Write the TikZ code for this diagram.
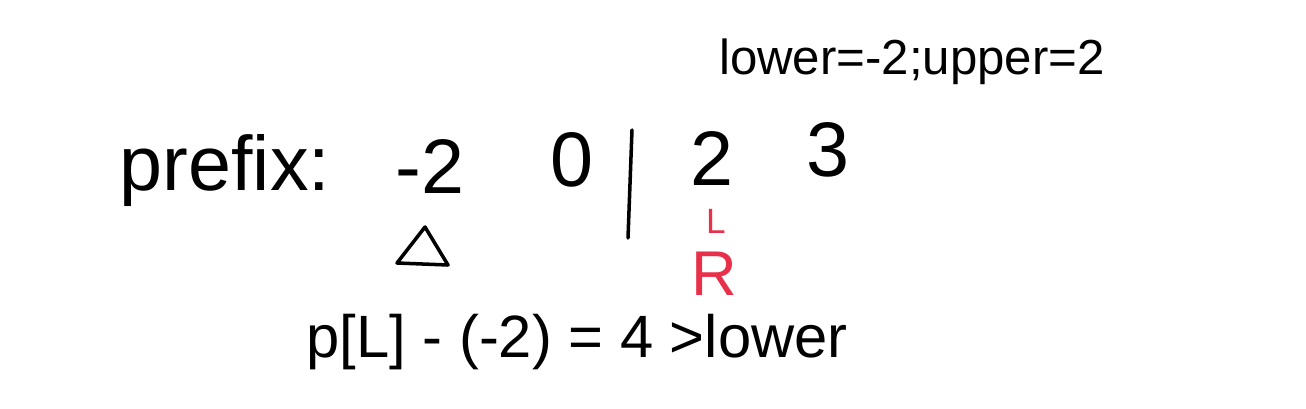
\documentclass[tikz,border=0pt]{standalone}
\usepackage{fontspec}
\setmainfont{Liberation Sans}
\definecolor{inkred}{HTML}{E8304A}
\begin{document}
\begin{tikzpicture}[x=0.02cm,y=-0.02cm]
    % Node styles
    \tikzset{
      big/.style={font=\fontsize{44}{48}\selectfont,inner sep=0pt},
      note/.style={font=\fontsize{28}{32}\selectfont,inner sep=0pt},
      ptr/.style={text=inkred,inner sep=0pt},
      stroke/.style={line width=2pt,line cap=round,line join=round}
    }
    \useasboundingbox (0,0) rectangle (1306,409);

    % --- Bounds note (top right) ---
    \node[note] (bounds) at (912,62) {lower=-2;upper=2};

    % --- Prefix row ---
    \node[big] (label) at (225,171) {prefix:};
    \node[big] (p0) at (430,167) {-2};
    \node[big] (p1) at (572,160) {0};
    \node[big] (p2) at (712,159) {2};
    \node[big] (p3) at (828,150) {3};

    % Divider between 0 and 2
    \draw[stroke] (632,130) -- (628,238);

    % --- Pointers under the row ---
    % Triangle under -2
    \draw[stroke] (425,227) -- (397,263) -- (448,265) -- cycle;
    % L and R under 2
    \node[ptr, font=\fontsize{20}{22}\selectfont] (ptrL) at (716,221) {L};
    \node[ptr, font=\fontsize{36}{38}\selectfont] (ptrR) at (714,274) {R};

    % --- Check line (bottom) ---
    \node[font=\fontsize{34}{38}\selectfont,inner sep=0pt] (check) at (577,342) {p[L] - (-2) = 4 >lower};
\end{tikzpicture}
\end{document}
